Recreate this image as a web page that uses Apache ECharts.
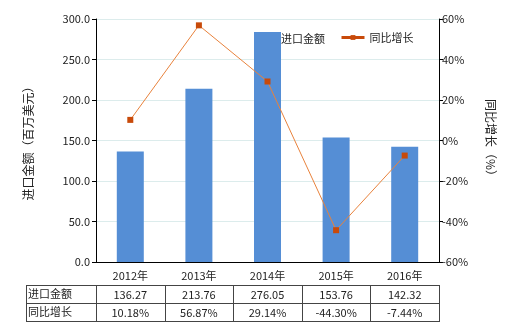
<!DOCTYPE html>
<html><head><meta charset="utf-8">
<script src="https://cdn.jsdelivr.net/npm/echarts@6/dist/echarts.min.js"></script>
<style>html,body{margin:0;padding:0;background:#fff}#c{width:520px;height:330px}</style>
</head><body><div id="c"></div>
<script>
var categories = ['2012年','2013年','2014年','2015年','2016年'];
var importValues = [136.27, 213.76, 276.05, 153.76, 142.32];
var growthValues = [10.18, 56.87, 29.14, -44.30, -7.44];
var importLabels = ['136.27','213.76','276.05','153.76','142.32'];
var growthLabels = ['10.18%','56.87%','29.14%','-44.30%','-7.44%'];
var rowNames = ['进口金额','同比增长'];

var FONT = '"Noto Sans CJK SC", sans-serif';
var G = {left:96, right:81, top:19, bottom:68};
var W = 520, H = 330;
var chart = echarts.init(document.getElementById('c'), null, {renderer:'canvas'});

var plotL = G.left, plotR = W - G.right;
var tblL = 26, rowH = 18, tblTop = 285;
var colW = (plotR - plotL) / categories.length;
var gfx = [];
var lineStyle = {stroke:'#444', lineWidth:1};
for (var r = 0; r <= 2; r++) {
  gfx.push({type:'line', shape:{x1:tblL, y1:tblTop + r*rowH + 0.5, x2:plotR, y2:tblTop + r*rowH + 0.5}, style:lineStyle, silent:true});
}
var xs = [tblL, plotL];
for (var i = 1; i <= categories.length; i++) xs.push(plotL + i*colW);
xs.forEach(function(x){
  x = Math.round(x) + 0.5;
  gfx.push({type:'line', shape:{x1:x, y1:tblTop, x2:x, y2:tblTop + 2*rowH + 1}, style:lineStyle, silent:true});
});
var rows = [importLabels, growthLabels];
for (var r = 0; r < 2; r++) {
  gfx.push({type:'text', x:tblL + 2, y:tblTop + r*rowH + rowH/2, style:{text:rowNames[r], font:'11px ' + FONT, fill:'#222', verticalAlign:'middle', align:'left'}, silent:true});
  for (var i = 0; i < categories.length; i++) {
    gfx.push({type:'text', x:plotL + (i+0.5)*colW, y:tblTop + r*rowH + rowH/2 + 1, style:{text:rows[r][i], font:'11px ' + FONT, fill:'#222', verticalAlign:'middle', align:'center'}, silent:true});
  }
}

chart.setOption({
  animation:false,
  textStyle:{fontFamily:FONT},
  grid:{left:G.left, right:G.right, top:G.top, bottom:G.bottom},
  legend:[{
    left:254, top:32, padding:0, itemWidth:27, itemHeight:14,
    textStyle:{fontFamily:FONT, fontSize:11, color:'#222', padding:[0,0,0,-5]},
    data:[{name:'进口金额', icon:'rect'}]
  },{
    left:340, top:32, padding:0, itemWidth:23, itemHeight:6,
    textStyle:{fontFamily:FONT, fontSize:11, color:'#222'},
    data:[{name:'同比增长', lineStyle:{width:3, color:'#c84a0a'}}]
  }],
  xAxis:{
    type:'category', data:categories,
    axisLine:{lineStyle:{color:'#000'}},
    axisTick:{alignWithLabel:true, length:4, lineStyle:{color:'#000'}},
    axisLabel:{color:'#222', fontSize:11, margin:8, fontFamily:FONT}
  },
  yAxis:[{
    type:'value', min:0, max:300, interval:50,
    name:'进口金额（百万美元）', nameLocation:'middle', nameGap:62, nameRotate:90,
    nameTextStyle:{color:'#222', fontSize:12, fontFamily:FONT},
    axisLine:{show:true, lineStyle:{color:'#000'}},
    axisTick:{show:true, length:4, lineStyle:{color:'#000'}},
    axisLabel:{color:'#222', fontSize:11, margin:6, fontFamily:FONT, formatter:function(v){return v.toFixed(1);}},
    splitLine:{lineStyle:{color:'#dcecec'}}
  },{
    type:'value', min:-60, max:60, interval:20,
    name:'同比增长（%）', nameLocation:'middle', nameGap:46, nameRotate:-90,
    nameTextStyle:{color:'#222', fontSize:12, fontFamily:FONT},
    axisLine:{show:true, lineStyle:{color:'#000'}},
    axisTick:{show:true, length:4, lineStyle:{color:'#000'}},
    axisLabel:{color:'#222', fontSize:11, margin:3, fontFamily:FONT, formatter:'{value}%'},
    splitLine:{show:false}
  }],
  series:[{
    name:'进口金额', type:'bar', data:importValues, barWidth:27,
    itemStyle:{color:'#558ed5'}
  },{
    name:'同比增长', type:'line', yAxisIndex:1, data:growthValues,
    symbol:'rect', symbolSize:6,
    lineStyle:{color:'#e8823c', width:1},
    itemStyle:{color:'#c84a0a'}
  }],
  graphic:gfx
});
</script></body></html>
